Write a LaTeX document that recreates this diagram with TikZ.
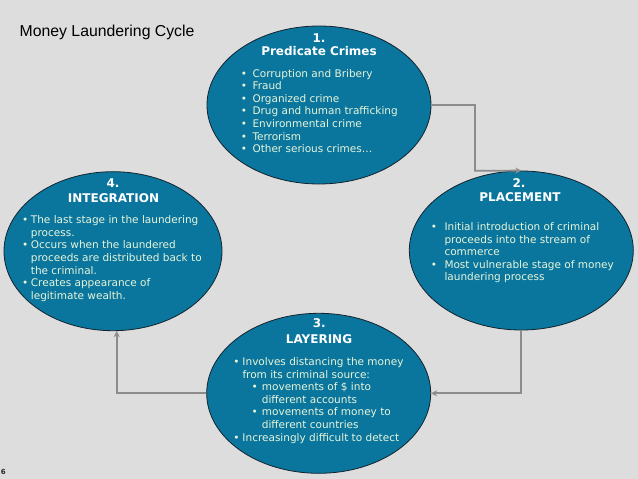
\documentclass[tikz,border=0pt]{standalone}
\usepackage{fontspec}
\setmainfont{DejaVu Sans}
\newfontfamily\titlefont{Liberation Sans}
\usetikzlibrary{shapes.geometric,arrows.meta}
\definecolor{bg}{RGB}{221,221,221}
\definecolor{ellfill}{RGB}{10,118,158}
\definecolor{ellline}{RGB}{20,35,45}
\definecolor{bodytxt}{RGB}{232,245,217}
\definecolor{arrowgray}{RGB}{140,140,140}
\newcommand{\bul}[1][5pt]{\llap{\textbullet\hspace{#1}}}
\tikzset{
  ell/.style={ellipse, draw=ellline, line width=0.8pt, fill=ellfill, inner sep=0pt},
  head/.style={anchor=base, inner sep=0pt, text=white, font=\fontsize{12}{14}\selectfont\bfseries},
  body/.style={anchor=base west, inner sep=0pt, text=bodytxt, font=\fontsize{10.5}{12.6}\selectfont},
  flow/.style={draw=arrowgray, line width=1.8pt, -{Stealth[length=6pt,width=6pt]}},
}
\begin{document}
\begin{tikzpicture}[x=1pt,y=-1pt]
\useasboundingbox (0,0) rectangle (638,479);
\fill[bg] (0,0) rectangle (638,479);

\node[anchor=base west, inner sep=0pt, font=\titlefont\fontsize{15.8}{18}\selectfont] (title) at (19.5,36.7) {Money Laundering Cycle};
\node[anchor=base west, inner sep=0pt, font=\fontsize{7}{8}\selectfont\bfseries, text=black!85] (pagenum) at (0.6,474.5) {6};

% ellipses
\node[ell, minimum width=224pt, minimum height=158pt] (e1) at (319,105) {};
\node[ell, minimum width=224pt, minimum height=159pt] (e2) at (521.3,250.5) {};
\node[ell, minimum width=224pt, minimum height=160pt] (e3) at (318.7,393.3) {};
\node[ell, minimum width=218pt, minimum height=159pt] (e4) at (113,251.2) {};

% connectors
\coordinate (k1) at (475,170.8);
\coordinate (k3) at (116.7,393.3);
\draw[flow] (e1.east) -| (k1) -- (e2.north);
\draw[flow] (e2.south) |- (e3.east);
\draw[flow] (e3.west) -- (k3) -- (k3 |- e4.south);

% 1
\node[head] (h1a) at (319,42) {1.};
\node[head] (h1b) at (319,56) {Predicate Crimes};
\node[body] (b1) at (252.3,77.1) {\begin{tabular}[t]{@{}l@{}}
\bul[5.4pt]Corruption and Bribery\\
\bul[5.4pt]Fraud\\
\bul[5.4pt]Organized crime\\
\bul[5.4pt]Drug and human trafficking\\
\bul[5.4pt]Environmental crime\\
\bul[5.4pt]Terrorism\\
\bul[5.4pt]Other serious crimes…
\end{tabular}};

% 2
\node[head] (h2a) at (519,187.7) {2.};
\node[head] (h2b) at (520,201.7) {PLACEMENT};
\node[body] (b2) at (444.3,230.5) {\begin{tabular}[t]{@{}l@{}}
\bul[7.5pt]Initial introduction of criminal\\
proceeds into the stream of\\
commerce\\
\bul[7.5pt]Most vulnerable stage of money\\
laundering process
\end{tabular}};

% 3
\node[head] (h3a) at (319.3,327.7) {3.};
\node[head] (h3b) at (319,343.7) {LAYERING};
\node[body] (b3) at (242.3,365.5) {\begin{tabular}[t]{@{}l@{}}
\bul[3pt]Involves distancing the money\\
from its criminal source:\\
\hspace*{19.4pt}\bul[4pt]movements of \$ into\\
\hspace*{19.4pt}different accounts\\
\hspace*{19.4pt}\bul[4pt]movements of money to\\
\hspace*{19.4pt}different countries\\
\bul[3pt]Increasingly difficult to detect
\end{tabular}};

% 4
\node[head] (h4a) at (113,187.7) {4.};
\node[head] (h4b) at (113.5,202) {INTEGRATION};
\node[body] (b4) at (30.7,223.6) {\begin{tabular}[t]{@{}l@{}}
\bul[2.5pt]The last stage in the laundering\\
process.\\
\bul[2.5pt]Occurs when the laundered\\
proceeds are distributed back to\\
the criminal.\\
\bul[2.5pt]Creates appearance of\\
legitimate wealth.
\end{tabular}};
\end{tikzpicture}
\end{document}
